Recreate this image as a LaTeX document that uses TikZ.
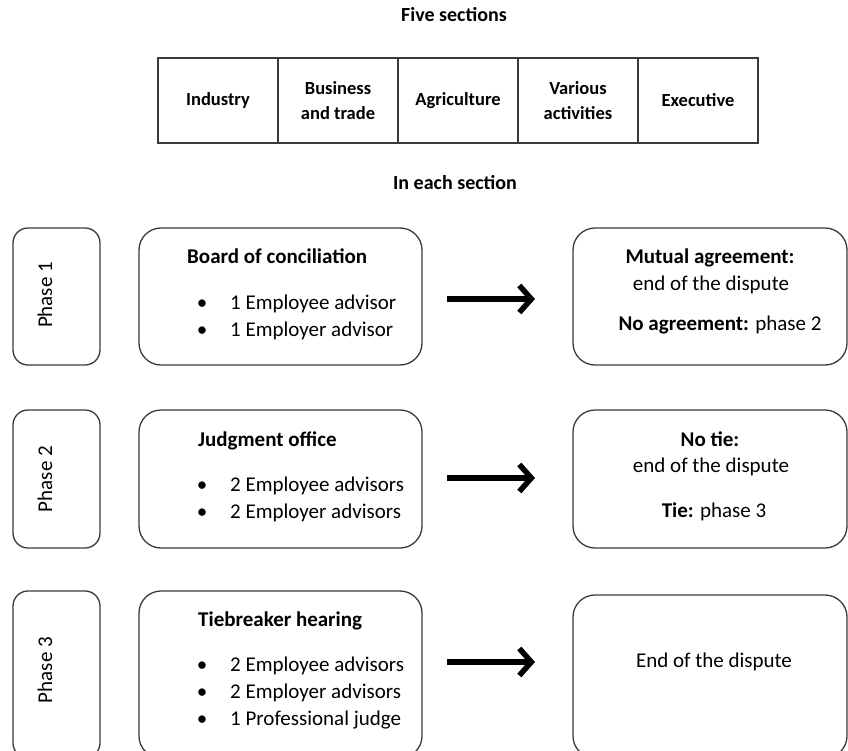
\documentclass[tikz,border=0pt]{standalone}
\usepackage{fontspec}
\setmainfont{Carlito}
\usetikzlibrary{arrows.meta}
\definecolor{edge}{HTML}{3A3A3A}
\begin{document}
\begin{tikzpicture}[x=1pt,y=-1pt,
  rbox/.style={draw=edge, line width=1.3pt, rounded corners=22pt, minimum width=283pt, inner sep=0pt},
  obox/.style={draw=edge, line width=1.3pt, rounded corners=22pt, minimum width=274pt, inner sep=0pt},
  pbox/.style={draw=edge, line width=1.3pt, rounded corners=15pt, minimum width=87pt, inner sep=0pt},
  cell/.style={draw=edge, line width=1.1pt, minimum width=120pt, minimum height=85pt, inner sep=0pt, align=center, font=\fontsize{18.5}{25}\selectfont\bfseries},
  head/.style={font=\fontsize{20}{24}\selectfont\bfseries, inner sep=0pt},
  body/.style={font=\fontsize{21}{25}\selectfont, inner sep=0pt},
  bhead/.style={font=\fontsize{21}{25}\selectfont\bfseries, inner sep=0pt},
  plabel/.style={font=\fontsize{21}{25}\selectfont, inner sep=0pt, rotate=90},
  bigarrow/.style={line width=6pt, -{Straight Barb[length=12pt,width=27pt,line width=5.5pt]}}
]
\useasboundingbox (0,0) rectangle (848,751);

% title and table
\node[head, anchor=base] (t1) at (454,22) {Five sections};
\node[cell] (c1) at (218,100.5) {Industry};
\node[cell] (c2) at (338,100.5) {Business\\and trade};
\node[cell] (c3) at (458,100.5) {Agriculture};
\node[cell] (c4) at (578,100.5) {Various\\activities};
\node[cell] (c5) at (698,100.5) {Executive};
\node[head, anchor=base] (t2) at (455,190) {In each section};

% phase 1
\node[pbox, minimum height=137pt] (p1) at (56.5,296.5) {};
\node[plabel] (p1l) at (45,295) {Phase 1};
\node[rbox, minimum height=137pt] (m1) at (280.5,296.5) {};
\node[bhead, anchor=base west] (m1h) at (187,264) {Board of conciliation};
\node[body, anchor=base] (m1b1) at (202,309.5) {\textbullet};
\node[body, anchor=base west] (m1a) at (230,309.5) {1 Employee advisor};
\node[body, anchor=base] (m1b2) at (202,336.5) {\textbullet};
\node[body, anchor=base west] (m1c) at (230,336.5) {1 Employer advisor};
\node[obox, minimum height=137pt] (r1) at (710,296.5) {};
\node[bhead, anchor=base] (r1a) at (710,264) {Mutual agreement:};
\node[body, anchor=base] (r1b) at (711,290.5) {end of the dispute};
\node[body, anchor=base] (r1c) at (720,330.5) {\textbf{No agreement:} phase 2};
\coordinate (a1s) at (447,299);
\coordinate (a1e) at (535,299);
\draw[bigarrow] (a1s) -- (a1e);

% phase 2
\node[pbox, minimum height=138pt] (p2) at (56.5,479) {};
\node[plabel] (p2l) at (45,479) {Phase 2};
\node[rbox, minimum height=138pt] (m2) at (280.5,479) {};
\node[bhead, anchor=base west] (m2h) at (198,446.5) {Judgment office};
\node[body, anchor=base] (m2b1) at (202,491.5) {\textbullet};
\node[body, anchor=base west] (m2a) at (230,491.5) {2 Employee advisors};
\node[body, anchor=base] (m2b2) at (202,518.5) {\textbullet};
\node[body, anchor=base west] (m2c) at (230,518.5) {2 Employer advisors};
\node[obox, minimum height=138pt] (r2) at (710,479) {};
\node[bhead, anchor=base] (r2a) at (710,446.5) {No tie:};
\node[body, anchor=base] (r2b) at (711,472.5) {end of the dispute};
\node[body, anchor=base] (r2c) at (714,517.5) {\textbf{Tie:} phase 3};
\coordinate (a2s) at (447,478);
\coordinate (a2e) at (535,478);
\draw[bigarrow] (a2s) -- (a2e);

% phase 3
\node[pbox, minimum height=167pt] (p3) at (56.5,674.5) {};
\node[plabel] (p3l) at (45,670) {Phase 3};
\node[rbox, minimum height=167pt] (m3) at (280.5,674.5) {};
\node[bhead, anchor=base west] (m3h) at (198,626.5) {Tiebreaker hearing};
\node[body, anchor=base] (m3b1) at (202,671.5) {\textbullet};
\node[body, anchor=base west] (m3a) at (230,671.5) {2 Employee advisors};
\node[body, anchor=base] (m3b2) at (202,698.5) {\textbullet};
\node[body, anchor=base west] (m3c) at (230,698.5) {2 Employer advisors};
\node[body, anchor=base] (m3b3) at (202,725.5) {\textbullet};
\node[body, anchor=base west] (m3d) at (230,725.5) {1 Professional judge};
\node[obox, minimum height=163pt] (r3) at (710,676.5) {};
\node[body, anchor=base] (r3a) at (714,667.5) {End of the dispute};
\coordinate (a3s) at (447,662);
\coordinate (a3e) at (535,662);
\draw[bigarrow] (a3s) -- (a3e);
\end{tikzpicture}
\end{document}
